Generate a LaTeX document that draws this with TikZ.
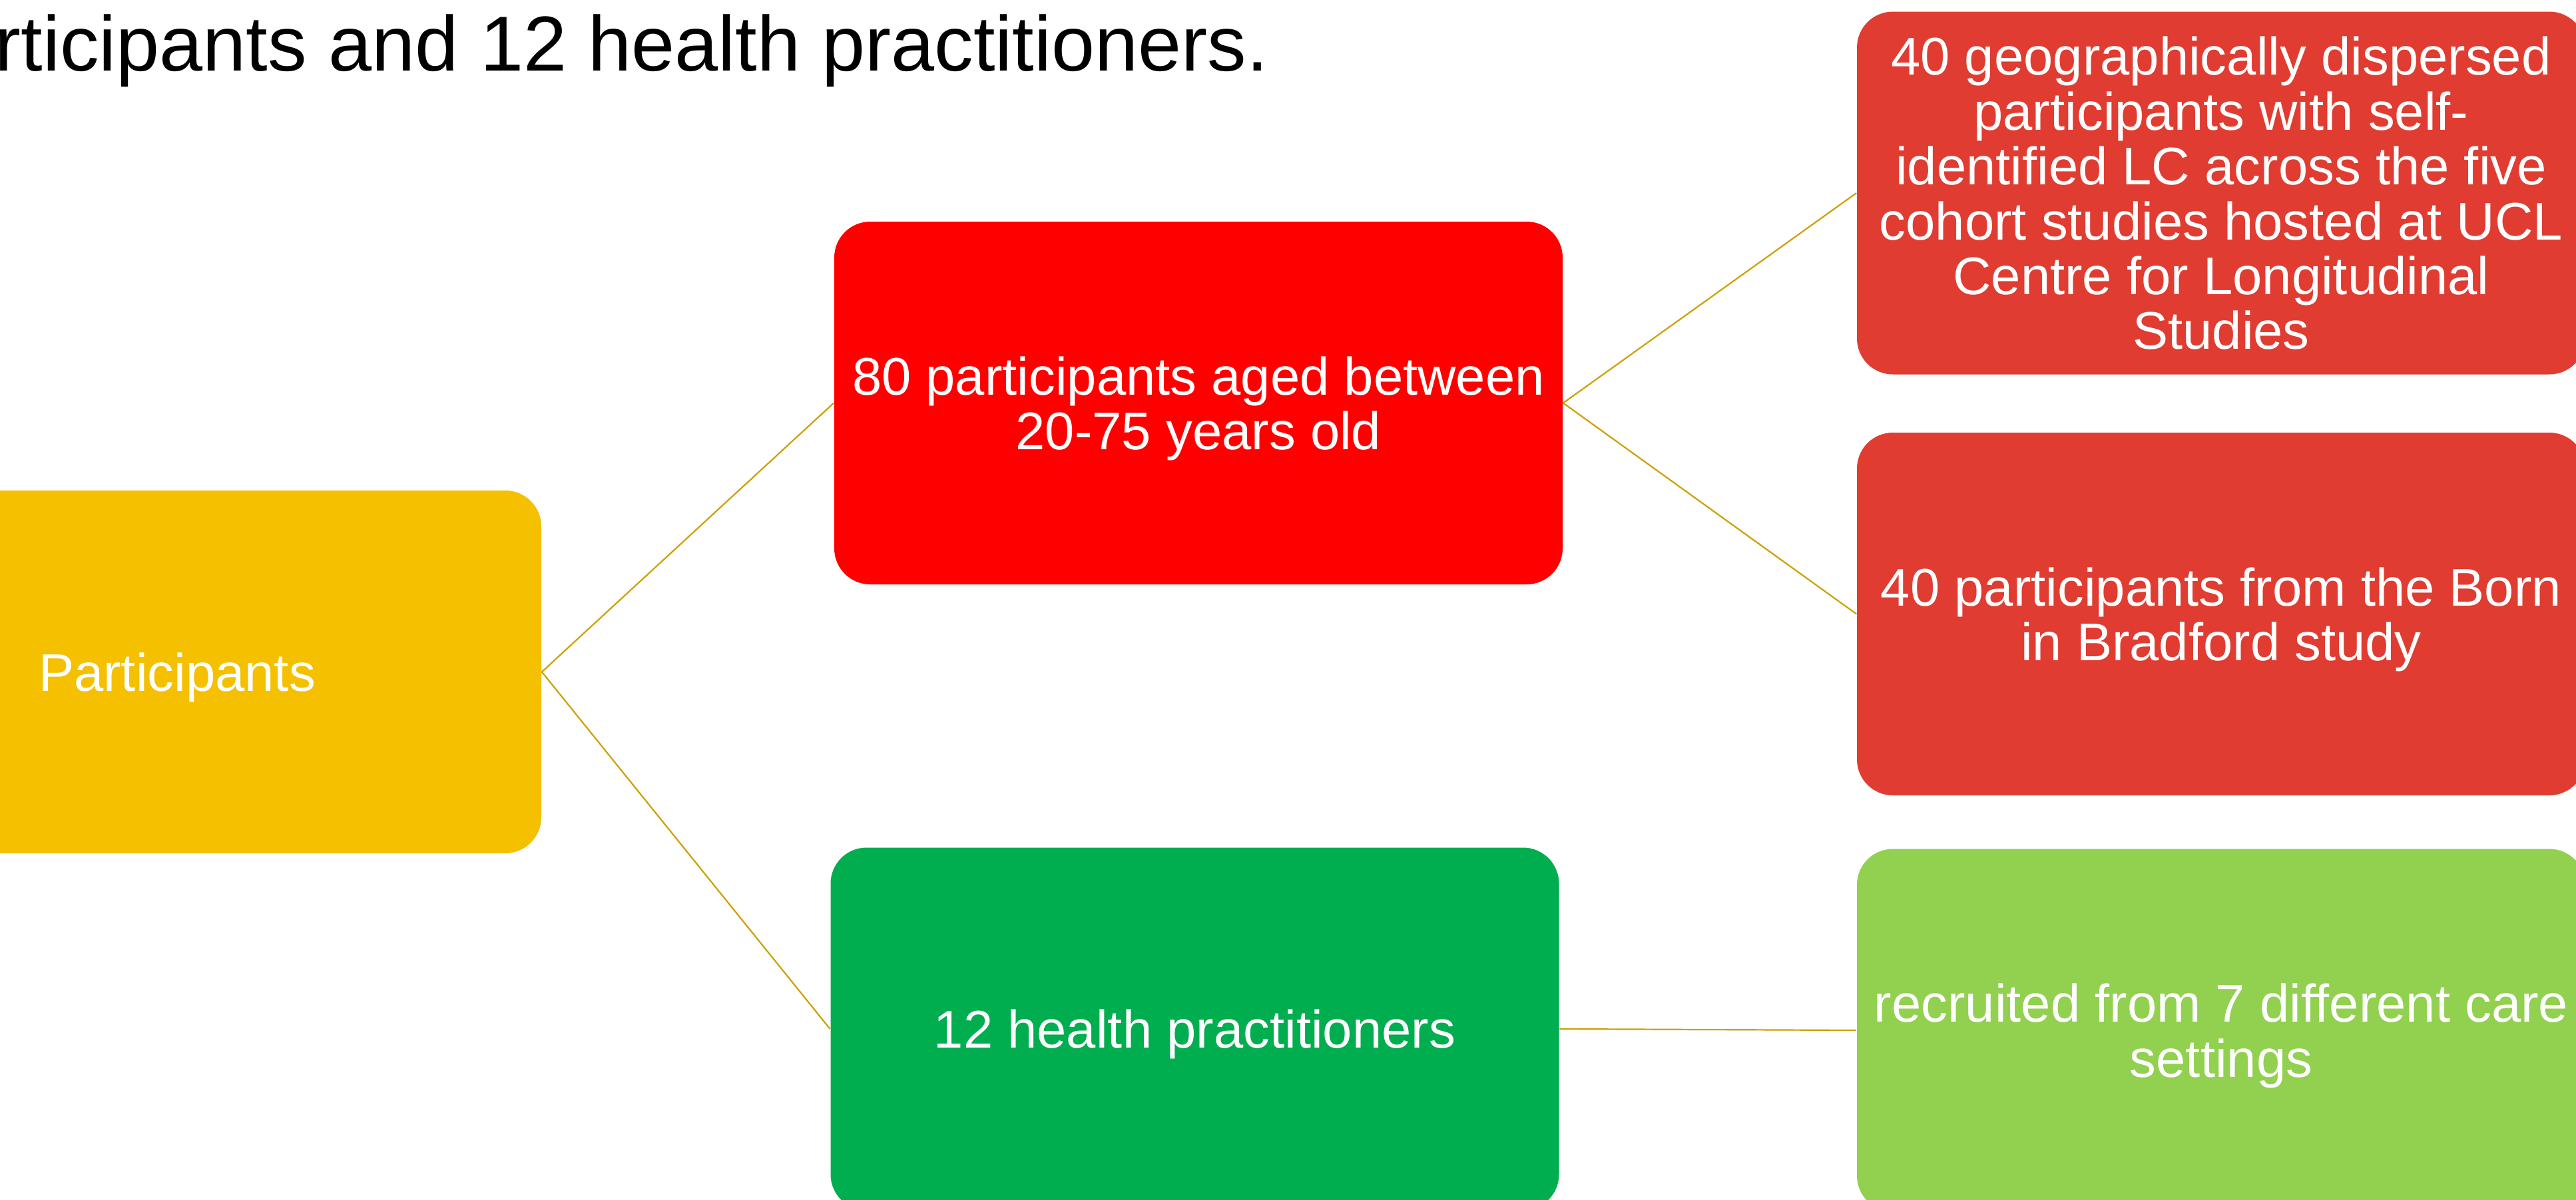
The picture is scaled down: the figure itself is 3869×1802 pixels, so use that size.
\documentclass[tikz,border=0pt]{standalone}
\usepackage{fontspec}
\setmainfont{Liberation Sans}
\definecolor{cYellow}{HTML}{F4C000}
\definecolor{cRedA}{HTML}{FF0000}
\definecolor{cRedB}{HTML}{E03C31}
\definecolor{cGreen}{HTML}{00AE4F}
\definecolor{cLGreen}{HTML}{92D050}
\definecolor{cLine}{HTML}{CCA000}
\tikzset{
  box/.style={rectangle, rounded corners=13.5pt, inner sep=0pt,
    minimum width=273.5pt, minimum height=136.25pt, text=white, align=center,
    text depth=0pt,
    font=\fontsize{19.9pt}{20.6pt}\selectfont},
  link/.style={draw=cLine, line width=0.55pt}
}
\begin{document}
\begin{tikzpicture}[x=0.25pt, y=-0.25pt]
\clip (0,0) rectangle (3869,1802);
\useasboundingbox (0,0) rectangle (3869,1802);
\node[anchor=base west, inner sep=0pt, font=\fontsize{29.25pt}{34pt}\selectfont] (title) at (-8,106) {rticipants and 12 health practitioners.};
\node[box, fill=cYellow] (yel) at (266,1009.5) {Participants};
\node[box, fill=cRedA] (redA) at (1800,605.5) {80 participants aged between\\20-75 years old};
\node[box, fill=cRedB] (redC) at (3336,290) {40 geographically dispersed\\participants with self-\\identified LC across the five\\cohort studies hosted at UCL\\Centre for Longitudinal\\Studies};
\node[box, fill=cRedB] (redB) at (3336,922.5) {40 participants from the Born\\in Bradford study};
\node[box, fill=cGreen] (grn) at (1794.5,1546) {12 health practitioners};
\node[box, fill=cLGreen] (lgrn) at (3336,1548) {recruited from 7 different care\\settings};
\draw[link] (yel.east) -- (redA.west);
\draw[link] (yel.east) -- (grn.west);
\draw[link] (redA.east) -- (redC.west);
\draw[link] (redA.east) -- (redB.west);
\draw[link] (grn.east) -- (lgrn.west);
\end{tikzpicture}
\end{document}
